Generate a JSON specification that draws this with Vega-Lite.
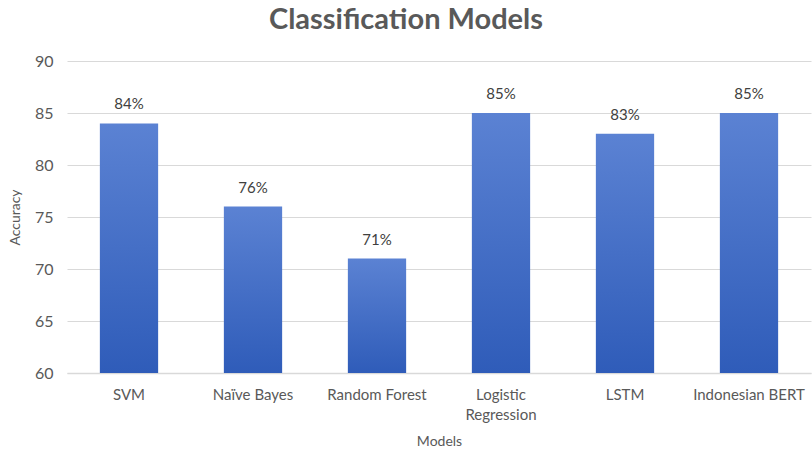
{
  "$schema": "https://vega.github.io/schema/vega-lite/v6.json",
  "autosize": {"type": "none"},
  "width": 744,
  "height": 312,
  "padding": {"left": 67, "top": 61, "right": 1, "bottom": 82},
  "background": "white",
  "title": {
    "text": "Classification Models",
    "font": "Lato",
    "fontSize": 29,
    "fontWeight": "bold",
    "color": "#595959",
    "anchor": "middle",
    "dx": -33,
    "offset": 18
  },
  "config": {
    "view": {"stroke": null},
    "font": "Lato"
  },
  "data": {
    "values": [
      {"model": "SVM", "accuracy": 84},
      {"model": "Naïve Bayes", "accuracy": 76},
      {"model": "Random Forest", "accuracy": 71},
      {"model": "Logistic Regression", "accuracy": 85},
      {"model": "LSTM", "accuracy": 83},
      {"model": "Indonesian BERT", "accuracy": 85}
    ]
  },
  "transform": [{"calculate": "datum.accuracy + '%'", "as": "label"}],
  "encoding": {
    "x": {
      "field": "model",
      "type": "nominal",
      "sort": null,
      "scale": {"paddingInner": 0.53, "paddingOuter": 0.265},
      "axis": {
        "title": "Models",
        "titleFont": "Lato",
        "titleFontSize": 14,
        "titleFontWeight": "normal",
        "titleColor": "#595959",
        "titlePadding": 12,
        "labelAngle": 0,
        "labelFont": "Lato",
        "labelFontSize": 15,
        "labelColor": "#595959",
        "labelPadding": 14,
        "labelExpr": "datum.value == 'Logistic Regression' ? ['Logistic', 'Regression'] : datum.value",
        "labelLineHeight": 20,
        "ticks": false,
        "domainColor": "#d9d9d9",
        "domainWidth": 1.5
      }
    },
    "y": {
      "field": "accuracy",
      "type": "quantitative",
      "scale": {"domain": [60, 90], "zero": false},
      "axis": {
        "title": "Accuracy",
        "titleFont": "Lato",
        "titleFontSize": 14,
        "titleFontWeight": "normal",
        "titleColor": "#595959",
        "titlePadding": 12,
        "values": [60, 65, 70, 75, 80, 85, 90],
        "labelFont": "Lato",
        "labelFontSize": 16,
        "labelColor": "#595959",
        "labelPadding": 14,
        "ticks": false,
        "domain": false,
        "gridColor": "#d9d9d9",
        "gridWidth": 1
      }
    }
  },
  "layer": [
    {
      "mark": {
        "type": "bar",
        "color": {
          "gradient": "linear",
          "x1": 0, "y1": 0, "x2": 0, "y2": 1,
          "stops": [
            {"offset": 0, "color": "#5b82d3"},
            {"offset": 1, "color": "#2f5cb9"}
          ]
        }
      },
      "encoding": {"y2": {"datum": 60}}
    },
    {
      "mark": {
        "type": "text",
        "dy": -19,
        "fontSize": 15,
        "font": "Lato",
        "color": "#404040"
      },
      "encoding": {
        "text": {"field": "label", "type": "nominal"}
      }
    }
  ]
}
